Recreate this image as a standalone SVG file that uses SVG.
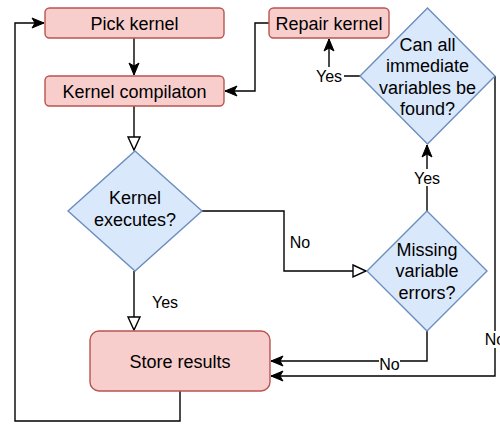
<svg xmlns="http://www.w3.org/2000/svg" width="500" height="424" viewBox="0 0 500 424">
<style>
.box{fill:#f8cecc;stroke:#b85450;stroke-width:1.4}
.dia{fill:#dae8fc;stroke:#6c8ebf;stroke-width:1.4}
.t{font-family:"Liberation Sans",Arial,sans-serif;font-size:18px;fill:#000;text-anchor:middle}
.lb{font-family:"Liberation Sans",Arial,sans-serif;font-size:16px;fill:#000;text-anchor:middle}
.e{fill:none;stroke:#000;stroke-width:1.4}
.a{marker-end:url(#arr)}
.o{marker-end:url(#open)}
</style>
<defs>
<marker id="arr" markerUnits="userSpaceOnUse" markerWidth="14" markerHeight="14" viewBox="0 0 14 14" refX="13" refY="7" orient="auto">
<path d="M1,2 L13,7 L1,12 L4,7 Z" fill="#000" stroke="#000" stroke-width="1"/>
</marker>
<marker id="open" markerUnits="userSpaceOnUse" markerWidth="16" markerHeight="16" viewBox="0 0 16 16" refX="14.5" refY="8" orient="auto">
<path d="M1.5,2 L14.5,8 L1.5,14 Z" fill="#fff" stroke="#000" stroke-width="1.4"/>
</marker>
</defs>
<g id="edges">
<path class="e a" d="M134,38 L134,75"/>
<path class="e a" d="M269,23 L255,23 L255,91 L225,91"/>
<path class="e o" d="M134,106 L134,150"/>
<path class="e o" d="M202,211 L284,211 L284,271 L366,271"/>
<text class="lb" x="300" y="248">No</text>
<path class="e o" d="M134,271 L134,330"/>
<text class="lb" x="165" y="308">Yes</text>
<path class="e a" d="M427,211 L427,145"/>
<rect x="412" y="169" width="30" height="17" fill="#fff"/>
<text class="lb" x="427" y="184">Yes</text>
<path class="e a" d="M360,76 L329,76 L329,39"/>
<rect x="314" y="67" width="30" height="17" fill="#fff"/>
<text class="lb" x="329" y="82">Yes</text>
<path class="e a" d="M427,331 L427,361 L271,361"/>
<rect x="379" y="353" width="21" height="17" fill="#fff"/>
<text class="lb" x="389.5" y="370">No</text>
<path class="e a" d="M495,76 L495,376 L271,376"/>
<rect x="485" y="331" width="20" height="17" fill="#fff"/>
<text class="lb" x="495" y="345">No</text>
<path class="e a" d="M180,391 L180,421 L15,421 L15,23 L44,23"/>
</g>
<g id="pick">
<rect class="box" x="45" y="8" width="179" height="30" rx="4.5"/>
<text class="t" x="134.5" y="29.5">Pick kernel</text>
</g>
<g id="compile">
<rect class="box" x="45" y="76" width="179" height="30" rx="4.5"/>
<text class="t" x="134.5" y="97.5">Kernel compilaton</text>
</g>
<g id="repair">
<rect class="box" x="269" y="8" width="120" height="30" rx="4.5"/>
<text class="t" x="329" y="29.5">Repair kernel</text>
</g>
<g id="canall">
<polygon class="dia" points="427.5,8 495,76 427.5,144 360,76"/>
<text class="t" x="427.5" y="50.5">Can all</text>
<text class="t" x="427.5" y="72">immediate</text>
<text class="t" x="427.5" y="93.5">variables be</text>
<text class="t" x="427.5" y="114.5">found?</text>
</g>
<g id="executes">
<polygon class="dia" points="135,151 202,211 135,271 68,211"/>
<text class="t" x="135" y="203.5">Kernel</text>
<text class="t" x="135" y="225.5">executes?</text>
</g>
<g id="missing">
<polygon class="dia" points="427,211 487,271 427,331 367,271"/>
<text class="t" x="427" y="255.5">Missing</text>
<text class="t" x="427" y="277">variable</text>
<text class="t" x="427" y="298.5">errors?</text>
</g>
<g id="store">
<rect class="box" x="90" y="331" width="180" height="60" rx="9"/>
<text class="t" x="180" y="367.5">Store results</text>
</g>
</svg>
